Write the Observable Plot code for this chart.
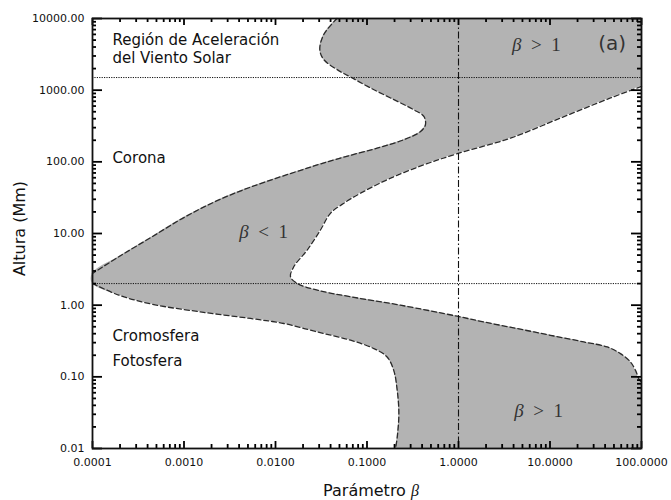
<!DOCTYPE html>
<html><head><meta charset="utf-8">
<script src="https://cdn.jsdelivr.net/npm/d3@7"></script>
<script src="https://cdn.jsdelivr.net/npm/@observablehq/plot@0.6"></script>
<style>body{margin:0;background:#fff} #chart svg{display:block}</style>
</head><body><div id="chart"></div>
<script>
// Curve A: beta = 1 contour, from top edge down to left edge
const curveAx = [0.047, 0.0337, 0.0305, 0.0337, 0.0472, 0.0689, 0.109, 0.181, 0.324, 0.418, 0.435, 0.385, 0.252, 0.129, 0.0513, 0.0222, 0.00556, 0.0024, 0.00104, 0.000449, 0.000194, 0.0001];
const curveAy = [10000, 5970, 3684, 2671, 1935, 1482, 1074, 778, 533, 430, 329, 265, 203, 155, 113, 81.6, 45.2, 29.4, 17.2, 9.02, 4.74, 2.77];
// Curve C: lower-left boundary (chromosphere / photosphere)
const curveCx = [0.0001, 0.000194, 0.000449, 0.00151, 0.00533, 0.0123, 0.0286, 0.0661, 0.119, 0.166, 0.196, 0.214, 0.223, 0.214, 0.205];
const curveCy = [2.01, 1.38, 1.03, 0.806, 0.652, 0.555, 0.423, 0.324, 0.248, 0.189, 0.123, 0.0647, 0.0306, 0.0144, 0.01];
// Curve B: right boundary ("<" shape)
const curveBx = [100, 45.8, 13.0, 3.70, 0.968, 0.418, 0.181, 0.0849, 0.0557, 0.0399, 0.0310, 0.0222, 0.0158, 0.0146, 0.0173, 0.0286, 0.0661, 0.232, 0.968, 1.89, 4.38, 10.1, 23.4, 42.2, 58.9, 75.8, 86.0, 93.4, 100];
const curveBy = [1130, 778, 408, 214, 130, 90.8, 59.2, 36.5, 26.4, 19.2, 11.2, 5.88, 3.43, 2.49, 2.01, 1.62, 1.31, 1.0, 0.701, 0.583, 0.472, 0.380, 0.307, 0.261, 0.211, 0.161, 0.123, 0.0944, 0.0838];

// Reference lines
const layerHeights = [1500, 2];
const betaOne = [1];

// Axes
const xDomain = [0.0001, 100];
const yDomain = [0.01, 10000];
const xMajor = [0.0001, 0.001, 0.01, 0.1, 1, 10, 100];
const xTickLabels = ["0.0001", "0.0010", "0.0100", "0.1000", "1.0000", "10.0000", "100.0000"];
const yMajor = [0.01, 0.1, 1, 10, 100, 1000, 10000];
const yTickLabels = ["0.01", "0.10", "1.00", "10.00", "100.00", "1000.00", "10000.00"];
const minorMult = [2, 3, 4, 5, 6, 7, 8, 9];

// Annotations
const regionLabels = ["Región de Aceleración\ndel Viento Solar", "Corona", "Cromosfera", "Fotosfera"];
const regionLabelX = [0.000165, 0.000165, 0.000165, 0.000165];
const regionLabelY = [3800, 116, 0.386, 0.169];
const betaLabels = ["β\u2002<\u20021", "β\u2002>\u20021", "β\u2002>\u20021"];
const betaLabelX = [0.0074, 7.1, 7.5];
const betaLabelY = [10.5, 4250, 0.0333];
const panelLabel = ["(a)"];
const panelLabelX = [47.9];
const panelLabelY = [4530];

// ---- build tables ----
const rows = (xs, ys) => xs.map((x, i) => ({x, y: ys[i]}));
const A = rows(curveAx, curveAy);
const C = rows(curveCx, curveCy);
const B = rows(curveBx, curveBy);
const leftBoundary = [...C.slice().reverse(), ...A.slice().reverse()];
const minors = (majors) => majors.slice(0, -1).flatMap(m => minorMult.map(k => m * k));
const xMinor = minors(xMajor);
const yMinor = minors(yMajor);
const regions = regionLabels.map((t, i) => ({t, x: regionLabelX[i], y: regionLabelY[i]}));
const betas = betaLabels.map((t, i) => ({t, x: betaLabelX[i], y: betaLabelY[i]}));
const panel = panelLabel.map((t, i) => ({t, x: panelLabelX[i], y: panelLabelY[i]}));

const width = 671, height = 500;
const mL = 92, mR = 30, mT = 18, mB = 52;
const W = width - mL - mR, H = height - mT - mB;
const ink = "#111";
const dash = {stroke: "#2a2a2a", strokeWidth: 1.3, strokeDasharray: "5,3", curve: "catmull-rom"};

// tick lengths (px) converted to multiplicative factors on the log scales
const xDec = W / Math.log10(xDomain[1] / xDomain[0]);
const yDec = H / Math.log10(yDomain[1] / yDomain[0]);
const kY = px => Math.pow(10, px / yDec);
const kX = px => Math.pow(10, px / xDec);
const tickStyle = {stroke: "#000", strokeWidth: 1.8};
const xTicks = (vals, len) => [
  Plot.ruleX(vals, {x: d => d, y1: () => yDomain[0], y2: () => yDomain[0] * kY(len), ...tickStyle}),
  Plot.ruleX(vals, {x: d => d, y1: () => yDomain[1] / kY(len), y2: () => yDomain[1], ...tickStyle})
];
const yTicks = (vals, len) => [
  Plot.ruleY(vals, {y: d => d, x1: () => xDomain[0], x2: () => xDomain[0] * kX(len), ...tickStyle}),
  Plot.ruleY(vals, {y: d => d, x1: () => xDomain[1] / kX(len), x2: () => xDomain[1], ...tickStyle})
];

const plot = Plot.plot({
  width, height,
  marginLeft: mL, marginRight: mR, marginTop: mT, marginBottom: mB,
  style: {fontFamily: "DejaVu Sans", fontSize: "11px", color: ink, background: "white"},
  x: {type: "log", domain: xDomain},
  y: {type: "log", domain: yDomain},
  marks: [
    Plot.areaX(leftBoundary, {y: "y", x1: "x", x2: () => xDomain[1], fill: "#b3b3b3", curve: "catmull-rom"}),
    Plot.areaX(B, {y: "y", x1: "x", x2: () => xDomain[1], fill: "white", curve: "catmull-rom"}),
    Plot.line(A, {x: "x", y: "y", ...dash}),
    Plot.line(C, {x: "x", y: "y", ...dash}),
    Plot.line(B, {x: "x", y: "y", ...dash}),
    Plot.ruleY(layerHeights, {stroke: "#111", strokeWidth: 1, strokeDasharray: "1.2,1.2"}),
    Plot.ruleX(betaOne, {stroke: "#111", strokeWidth: 1.1, strokeDasharray: "7,2.5,1.5,2.5"}),
    // inward ticks on all four sides
    ...xTicks(xMajor, 7),
    ...xTicks(xMinor, 4),
    ...yTicks(yMajor, 10),
    ...yTicks(yMinor, 4),
    Plot.frame({stroke: ink, strokeWidth: 1.8}),
    Plot.axisX(xMajor, {tickSize: 0, tickPadding: 10, tickFormat: d => xTickLabels[xMajor.indexOf(d)], label: null, fontSize: 11}),
    Plot.axisY(yMajor, {tickSize: 0, tickPadding: 8, tickFormat: d => yTickLabels[yMajor.indexOf(d)], label: null, fontSize: 11}),
    // region annotations
    Plot.text(regions, {x: "x", y: "y", text: "t", textAnchor: "start", fontSize: 15, lineHeight: 1.2, fill: ink}),
    Plot.text(betas, {x: "x", y: "y", text: "t", textAnchor: "middle", fontSize: 19, fontFamily: "Liberation Serif", fill: "#333"}),
    Plot.text(panel, {x: "x", y: "y", text: "t", textAnchor: "middle", fontSize: 20, fill: "#333"}),
    // axis titles
    Plot.text(["Parámetro β"], {frameAnchor: "bottom", textAnchor: "middle", lineAnchor: "middle", text: d => d, dy: 42, dx: 4, fontSize: 16, fill: ink}),
    Plot.text(["Altura (Mm)"], {frameAnchor: "left", textAnchor: "middle", lineAnchor: "middle", text: d => d, rotate: -90, dx: -73, dy: -5, fontSize: 16, fill: ink})
  ]
});

// render beta glyphs as italic serif
d3.select(plot).selectAll("text").each(function() {
  if (this.querySelector("tspan")) return;
  const t = this.textContent;
  const i = t.indexOf("β");
  if (i < 0) return;
  const before = t.slice(0, i), after = t.slice(i + 1);
  this.textContent = "";
  const s = d3.select(this);
  if (before) s.append("tspan").text(before);
  s.append("tspan").attr("font-family", "Liberation Serif").attr("font-style", "italic").text("β");
  if (after) s.append("tspan").attr("font-family", before ? null : "Liberation Serif").text(after);
});

document.getElementById("chart").appendChild(plot);
</script>
</body></html>
